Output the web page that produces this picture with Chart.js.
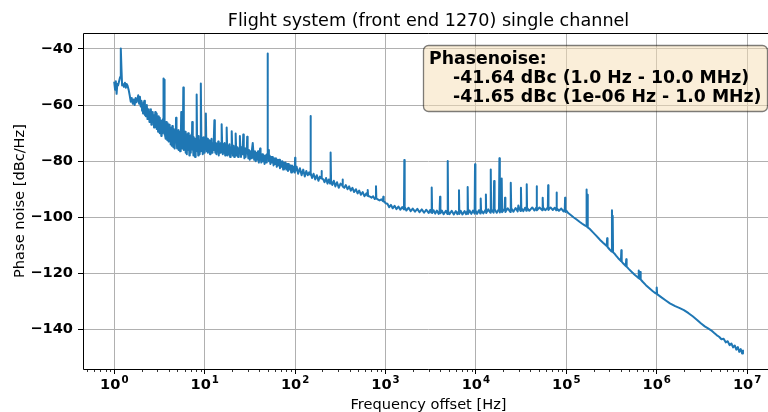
<!DOCTYPE html>
<html><head><meta charset="utf-8">
<style>html,body{margin:0;padding:0;overflow:hidden;background:#fff}canvas{display:block}</style>
<script src="https://cdn.jsdelivr.net/npm/chart.js@4.4.1/dist/chart.umd.min.js"></script>
</head><body>
<canvas id="c" width="776" height="412" style="width:776px;height:412px"></canvas>
<script>
const titleText = 'Flight system (front end 1270) single channel';
const xAxisTitle = 'Frequency offset [Hz]';
const yAxisTitle = 'Phase noise [dBc/Hz]';
const annotationHead = 'Phasenoise:';
const annotationLines = ['-41.64 dBc (1.0 Hz - 10.0 MHz)', '-41.65 dBc (1e-06 Hz - 1.0 MHz)'];
const xTickExponents = [0, 1, 2, 3, 4, 5, 6, 7];
const yTickValues = [-140, -120, -100, -80, -60, -40];

// 1 Hz - 2 Hz
const freqA1 = [1.00,1.02,1.04,1.06,1.08,1.10,1.13,1.16,1.18,1.20,
  1.22,1.25,1.28,1.31,1.34,1.37,1.40,1.44,1.48,1.52,
  1.56,1.60,1.64,1.68,1.72,1.76,1.80,1.84,1.88,1.92,
  1.96];
const dbcA1 = [-52.0,-54.5,-51.5,-56.0,-52.5,-53.0,-51.5,-50.0,-39.8,-47.0,
  -53.0,-52.5,-53.5,-52.0,-53.8,-52.5,-53.0,-54.5,-56.5,-58.8,
  -57.5,-59.5,-58.0,-60.0,-57.5,-59.0,-58.0,-56.5,-59.5,-57.0,
  -60.5];

// 2 Hz - 4 Hz
const freqA2 = [2.00,2.03,2.05,2.08,2.10,2.13,2.15,2.18,2.20,2.23,
  2.25,2.28,2.30,2.33,2.36,2.39,2.42,2.45,2.48,2.51,
  2.54,2.57,2.60,2.63,2.66,2.69,2.72,2.75,2.78,2.81,
  2.84,2.87,2.90,2.93,2.96,2.99,3.02,3.05,3.08,3.11,
  3.14,3.17,3.20,3.24,3.27,3.31,3.34,3.38,3.41,3.44,
  3.46,3.48,3.50,3.53,3.55,3.58,3.60,3.62,3.65,3.68,
  3.72,3.75,3.79,3.82,3.86,3.90,3.94,3.98];
const dbcA2 = [-58.5,-62.0,-60.0,-63.0,-59.0,-61.5,-58.5,-63.5,-60.5,-64.0,
  -61.0,-63.0,-60.0,-65.0,-62.0,-64.5,-61.5,-66.0,-62.5,-65.0,
  -61.5,-67.0,-63.0,-66.0,-62.5,-65.5,-63.5,-68.0,-64.0,-67.0,
  -62.5,-66.5,-64.0,-68.5,-63.0,-67.0,-65.0,-69.5,-64.0,-68.0,
  -65.5,-70.0,-64.5,-69.0,-66.0,-71.0,-65.5,-69.5,-66.5,-70.0,
  -65.0,-50.5,-64.0,-69.5,-66.5,-70.5,-51.0,-65.5,-71.0,-67.0,
  -72.0,-66.0,-70.5,-67.5,-72.5,-66.5,-71.5,-68.0];

// 4 Hz - 10 Hz
const freqA3 = [4.02,4.06,4.10,4.14,4.18,4.22,4.26,4.30,4.34,4.38,
  4.42,4.46,4.50,4.55,4.60,4.64,4.68,4.73,4.78,4.82,
  4.86,4.90,4.95,5.00,5.05,5.10,5.15,5.20,5.25,5.30,
  5.35,5.40,5.45,5.50,5.55,5.60,5.65,5.70,5.75,5.80,
  5.85,5.90,5.95,6.01,6.07,6.13,6.19,6.25,6.31,6.37,
  6.43,6.50,6.56,6.63,6.70,6.77,6.84,6.91,6.98,7.05,
  7.12,7.20,7.27,7.34,7.42,7.50,7.58,7.66,7.74,7.82,
  7.90,7.98,8.06,8.15,8.23,8.31,8.40,8.48,8.57,8.66,
  8.75,8.84,8.93,9.02,9.10,9.18,9.27,9.37,9.46,9.56,
  9.66,9.75,9.85,9.95];
const dbcA3 = [-73.0,-67.0,-71.0,-68.5,-74.0,-68.0,-72.5,-69.5,-74.5,-67.5,
  -72.0,-70.0,-75.0,-68.5,-73.5,-70.5,-75.5,-69.0,-73.0,-64.5,
  -72.5,-69.5,-75.5,-70.5,-74.5,-69.0,-76.0,-71.0,-74.0,-69.5,
  -76.5,-71.5,-75.0,-62.5,-73.5,-68.5,-75.5,-70.5,-74.0,-53.7,
  -70.0,-76.0,-71.0,-75.0,-69.5,-77.0,-71.5,-75.5,-70.5,-77.5,
  -72.0,-76.0,-70.0,-75.5,-72.5,-78.0,-71.0,-76.5,-72.5,-77.0,
  -70.5,-75.5,-66.0,-76.0,-72.0,-78.0,-71.5,-76.5,-73.0,-78.5,
  -72.0,-76.0,-72.5,-56.2,-71.5,-76.5,-73.0,-78.0,-71.0,-76.0,
  -72.5,-77.5,-73.0,-76.5,-52.3,-71.5,-76.0,-72.0,-77.5,-73.0,
  -76.5,-71.5,-77.0,-73.5];

// 10 Hz - 30 Hz
const freqB1 = [10.05,10.15,10.3,10.4,10.55,10.7,10.85,11.0,11.15,11.3,
  11.45,11.6,11.75,11.9,12.05,12.2,12.4,12.6,12.8,12.95,
  13.1,13.3,13.5,13.7,13.9,14.1,14.3,14.55,14.8,15.05,
  15.2,15.4,15.6,15.85,16.1,16.35,16.6,16.85,17.1,17.3,
  17.5,17.7,17.95,18.2,18.5,18.8,19.1,19.4,19.65,19.9,
  20.15,20.5,20.85,21.2,21.55,21.8,22.0,22.25,22.6,23.0,
  23.4,23.8,24.2,24.5,24.8,25.2,25.6,26.0,26.35,26.7,
  27.05,27.5,27.95,28.4,28.85,29.2,29.5,29.85];
const dbcB1 = [-75.5,-71.5,-63.0,-72.0,-76.5,-72.0,-77.0,-73.0,-76.0,-72.5,
  -77.5,-73.5,-76.5,-72.0,-77.0,-73.5,-76.0,-72.5,-65.4,-73.0,
  -77.0,-73.5,-77.5,-74.0,-76.5,-73.0,-78.0,-74.0,-77.0,-73.5,
  -75.0,-66.8,-74.0,-77.5,-74.0,-77.0,-73.5,-78.0,-74.5,-75.5,
  -68.0,-74.5,-78.0,-74.5,-77.5,-74.0,-78.5,-75.0,-76.5,-69.3,
  -75.0,-78.0,-74.5,-78.5,-75.0,-76.5,-70.1,-75.0,-78.0,-75.0,
  -78.5,-75.5,-77.0,-71.0,-75.5,-78.5,-75.0,-77.5,-76.0,-70.5,
  -75.5,-79.0,-75.5,-78.5,-76.0,-77.0,-71.3,-76.0];

// 30 Hz - 100 Hz
const freqB2 = [30.4,30.9,31.5,32.1,32.7,33.3,34.0,34.6,35.3,36.0,
  36.7,37.4,38.1,38.9,39.7,40.5,41.0,41.5,42.3,43.2,
  44.1,45.0,45.9,46.8,47.8,48.6,49.2,49.6,50.0,50.6,
  51.3,52.3,53.3,54.4,55.5,56.6,57.8,59.0,60.2,61.4,
  62.7,64.0,65.3,66.6,68.0,69.4,70.8,72.3,73.8,75.3,
  76.8,78.4,80.0,81.7,83.4,85.1,86.9,88.7,90.5,92.4,
  94.3,96.3,98.2,99.3,100,100.8];
const dbcB2 = [-79.0,-76.0,-79.5,-76.5,-79.0,-76.0,-73.5,-77.0,-79.5,-76.5,
  -80.0,-77.0,-79.5,-76.5,-80.5,-77.5,-75.5,-78.5,-80.5,-77.5,
  -80.0,-78.0,-81.0,-78.0,-80.5,-77.5,-79.0,-41.6,-78.0,-76.0,
  -80.0,-78.0,-81.0,-78.5,-80.5,-78.5,-81.5,-79.0,-81.0,-79.0,
  -82.0,-79.5,-81.5,-79.5,-82.5,-80.0,-82.0,-80.0,-83.0,-80.5,
  -82.5,-80.5,-83.0,-81.0,-83.5,-81.0,-83.0,-81.5,-84.0,-81.5,
  -83.5,-82.0,-84.0,-82.5,-78.8,-83.5];

// 100 Hz - 1 kHz
const freqC = [104,108,113,118,123,128,133,138,143,146.5,
  148,149.5,154,160,167,174,181,188,194,196,
  198,205,212,220,228,236,244,247,250,258,
  268,279,291,304,318,332,335,338,350,364,
  380,396,413,431,450,470,491,512,535,560,
  585,615,630,636,642,670,700,730,760,778,
  785,792,820,860,900,935,945,955,980,1000];
const dbcC = [-82.0,-84.5,-82.5,-85.0,-83.0,-85.5,-83.5,-85.0,-84.0,-84.8,
  -63.9,-84.2,-86.0,-84.5,-86.5,-85.0,-87.0,-85.5,-86.2,-83.5,
  -86.0,-86.5,-87.5,-86.0,-88.0,-86.5,-88.0,-76.9,-87.0,-88.5,
  -87.0,-89.0,-87.5,-89.5,-88.0,-88.6,-86.5,-89.0,-89.5,-88.5,
  -90.0,-89.0,-90.5,-89.5,-91.0,-90.0,-91.5,-90.5,-92.0,-91.0,
  -92.5,-91.5,-92.3,-90.3,-92.4,-92.6,-93.0,-92.5,-93.5,-93.2,
  -88.9,-93.3,-93.6,-94.0,-93.6,-94.2,-92.7,-94.4,-94.5,-95.0];

// 1 kHz - 100 kHz
const freqD = [1050,1100,1150,1200,1260,1320,1390,1460,1530,1600,
  1615,1630,1700,1800,1900,2000,2120,2250,2380,2520,
  2670,2830,3000,3120,3210,3245,3280,3400,3550,3700,
  3870,3970,4010,4050,4200,4400,4650,4830,4880,4930,
  5100,5400,5700,6000,6250,6440,6500,6560,6800,7100,
  7500,7800,8030,8110,8190,8500,8900,9300,9680,9780,
  9880,10300,10800,11200,11300,11400,12100,12800,12900,13000,
  13700,14450,14600,14750,15700,15900,16100,17000,18000,18200,
  18400,19100,19300,19500,20800,21000,21200,22500,24000,24300,
  24600,26000,27500,29000,29500,30000,31200,31500,31800,33500,
  35000,36200,36500,36800,39000,42000,44500,46600,47000,47400,
  50500,54300,54800,55300,58500,62500,63000,63500,67000,71000,
  74500,77300,78000,78700,83000,88000,93000,96200,97000,97800,
  100000];
const dbcD = [-95.2,-96.4,-95.6,-96.8,-95.9,-97.1,-96.2,-97.3,-96.4,-97.2,
  -79.6,-96.3,-97.6,-96.6,-97.8,-96.9,-98.0,-97.0,-98.2,-97.2,
  -98.4,-97.3,-98.5,-97.4,-98.3,-89.4,-98.5,-97.5,-98.7,-97.6,
  -98.8,-97.8,-92.7,-98.6,-97.6,-98.9,-97.7,-98.8,-79.9,-97.8,
  -98.9,-97.7,-99.0,-97.8,-98.9,-97.9,-90.4,-98.8,-97.7,-99.0,
  -97.8,-98.9,-97.8,-89.2,-98.8,-97.6,-98.8,-97.6,-98.7,-81.1,
  -97.5,-98.8,-97.5,-98.7,-93.3,-97.4,-98.6,-97.3,-91.9,-98.5,
  -97.2,-98.4,-83.0,-97.2,-98.4,-87.1,-97.1,-98.4,-97.1,-79.0,
  -98.3,-97.0,-86.2,-98.2,-96.9,-93.0,-98.1,-96.8,-98.1,-87.7,
  -96.8,-98.0,-96.7,-97.9,-95.8,-96.7,-97.8,-89.5,-96.7,-97.8,
  -96.6,-97.7,-88.2,-96.6,-97.7,-96.5,-97.6,-96.5,-88.9,-97.5,
  -96.5,-97.5,-93.0,-96.5,-97.5,-96.5,-88.6,-97.4,-96.5,-97.4,
  -96.6,-97.5,-91.2,-96.7,-97.7,-96.9,-97.9,-97.2,-93.0,-98.1,
  -97.6];

// 100 kHz - 9 MHz
const freqE = [105000,112000,120000,130000,140000,150000,160000,166000,167000,168500,
  170500,172000,173500,182000,195000,210000,225000,240000,255000,270000,
  280000,283000,286000,300000,312000,317000,320000,323000,326000,329000,
  340000,355000,375000,395000,402000,406000,410000,430000,455000,460000,
  465000,490000,530000,575000,620000,626000,630000,636000,652000,658000,
  665000,700000,760000,830000,900000,960000,990000,1000000,1010000,1100000,
  1250000,1400000,1600000,1800000,2000000,2250000,2500000,2800000,3100000,3400000,
  3700000,4000000,4300000,4600000,4900000,5200000,5500000,5800000,6100000,6400000,
  6700000,7000000,7300000,7600000,7900000,8200000,8500000,8800000,9000000];
const dbcE = [-98.5,-99.2,-100.0,-100.8,-101.6,-102.3,-102.9,-103.2,-90.1,-103.3,
  -103.4,-92.0,-103.6,-104.2,-105.2,-106.3,-107.3,-108.3,-109.1,-109.8,
  -110.3,-107.5,-110.6,-111.4,-112.0,-112.2,-97.5,-112.3,-99.5,-112.5,
  -112.9,-113.7,-114.6,-115.3,-115.6,-111.8,-115.8,-116.6,-117.4,-115.0,
  -117.6,-118.4,-119.5,-120.6,-121.5,-121.6,-119.0,-121.7,-122.0,-119.5,
  -122.2,-123.0,-124.2,-125.3,-126.3,-127.0,-127.2,-125.0,-127.4,-128.3,
  -129.6,-130.7,-131.7,-132.4,-133.1,-134.2,-135.3,-136.6,-137.9,-138.9,
  -139.6,-140.3,-141.2,-142.0,-142.6,-143.5,-143.3,-144.6,-144.2,-145.6,
  -145.0,-146.4,-145.7,-147.2,-146.3,-148.0,-147.0,-148.6,-147.6];

const freqSegments = [freqA1, freqA2, freqA3, freqB1, freqB2, freqC, freqD, freqE];
const dbcSegments = [dbcA1, dbcA2, dbcA3, dbcB1, dbcB2, dbcC, dbcD, dbcE];
freqSegments.forEach((f, i) => { if (f.length !== dbcSegments[i].length) throw new Error('segment ' + i + ' length mismatch ' + f.length + ' vs ' + dbcSegments[i].length); });
const freqHz = [].concat(...freqSegments);
const phaseNoiseDbc = [].concat(...dbcSegments);
const points = freqHz.map((f, i) => ({ x: f, y: phaseNoiseDbc[i] }));

const FONT = '"DejaVu Sans", sans-serif';
const TICK_PX = 14.6, EXP_PX = 10.2, TITLE_PX = 17.6, LABEL_PX = 14.6, NOTE_PX = 17.3;

const decor = {
  id: 'decor',
  afterDatasetsDraw(chart) {
    const ctx = chart.ctx, a = chart.chartArea, xs = chart.scales.x;
    ctx.save();
    // minor ticks
    ctx.strokeStyle = '#000';
    ctx.lineWidth = 0.8;
    for (let e = -1; e <= 7; e++) {
      for (let k = 2; k <= 9; k++) {
        const v = k * Math.pow(10, e);
        if (v < xs.min || v > xs.max) continue;
        const px = Math.round(xs.getPixelForValue(v)) + 0.5;
        ctx.beginPath(); ctx.moveTo(px, a.bottom); ctx.lineTo(px, a.bottom + 3); ctx.stroke();
      }
    }
    // spines
    ctx.lineWidth = 1;
    ctx.strokeStyle = '#000';
    ctx.beginPath();
    ctx.moveTo(a.right, Math.round(a.top) + 0.5);
    ctx.lineTo(Math.round(a.left) + 0.5, Math.round(a.top) + 0.5);
    ctx.lineTo(Math.round(a.left) + 0.5, Math.round(a.bottom) + 0.5);
    ctx.lineTo(a.right, Math.round(a.bottom) + 0.5);
    ctx.stroke();
    // annotation box
    ctx.beginPath();
    ctx.roundRect(423.5, 45.5, 344, 66, 5);
    ctx.fillStyle = 'rgba(245,222,179,0.5)';
    ctx.fill();
    ctx.strokeStyle = 'rgba(0,0,0,0.5)';
    ctx.lineWidth = 1.3;
    ctx.stroke();
    ctx.fillStyle = '#000';
    ctx.font = 'bold ' + NOTE_PX + 'px ' + FONT;
    ctx.textAlign = 'left';
    ctx.textBaseline = 'alphabetic';
    ctx.fillText(annotationHead, 429, 63.5);
    ctx.fillText(annotationLines[0], 453, 82.8);
    ctx.fillText(annotationLines[1], 453, 102);
    // title
    const cx = (a.left + a.right) / 2;
    ctx.font = TITLE_PX + 'px ' + FONT;
    ctx.textAlign = 'center';
    ctx.fillText(titleText, cx, 26);
    // x axis title
    ctx.font = LABEL_PX + 'px ' + FONT;
    ctx.fillText(xAxisTitle, cx, 409);
    // y axis title
    ctx.save();
    ctx.translate(23.5, (a.top + a.bottom) / 2);
    ctx.rotate(-Math.PI / 2);
    ctx.fillText(yAxisTitle, 0, 0);
    ctx.restore();
    // x tick labels 10^n
    xTickExponents.forEach(e => {
      const px = xs.getPixelForValue(Math.pow(10, e));
      ctx.font = 'bold ' + TICK_PX + 'px ' + FONT;
      const wb = ctx.measureText('10').width;
      ctx.font = 'bold ' + EXP_PX + 'px ' + FONT;
      const we = ctx.measureText(String(e)).width;
      const x0 = px - (wb + we + 1) / 2;
      ctx.textAlign = 'left';
      ctx.font = 'bold ' + TICK_PX + 'px ' + FONT;
      ctx.fillText('10', x0, 389);
      ctx.font = 'bold ' + EXP_PX + 'px ' + FONT;
      ctx.fillText(String(e), x0 + wb + 1, 382.5);
    });
    ctx.restore();
  }
};

new Chart(document.getElementById('c'), {
  type: 'line',
  data: {
    datasets: [{
      data: points,
      borderColor: '#1f77b4',
      borderWidth: 2,
      pointRadius: 0,
      fill: false,
      tension: 0,
      borderJoinStyle: 'round',
      borderCapStyle: 'square'
    }]
  },
  options: {
    responsive: false,
    animation: false,
    devicePixelRatio: 1,
    layout: { padding: { top: 33, left: 0, right: 2, bottom: 0 } },
    plugins: { legend: { display: false }, tooltip: { enabled: false }, title: { display: false } },
    scales: {
      x: {
        type: 'logarithmic',
        min: 0.4506,
        max: 1.984e7,
        afterBuildTicks: s => { s.ticks = xTickExponents.map(e => ({ value: Math.pow(10, e) })); },
        afterFit: s => { s.height = 43; },
        ticks: { display: false },
        border: { display: false },
        grid: { color: '#b0b0b0', lineWidth: 1, tickColor: '#000', tickLength: 5, tickWidth: 1, drawTicks: true }
      },
      y: {
        type: 'linear',
        min: -154.1,
        max: -34.3,
        afterBuildTicks: s => { s.ticks = yTickValues.map(v => ({ value: v })); },
        afterFit: s => { s.width = 83; },
        ticks: {
          padding: 5,
          color: '#000',
          font: { family: 'DejaVu Sans', size: TICK_PX, weight: 'bold' },
          callback: v => String(v).replace('-', '\u2212')
        },
        border: { display: false },
        grid: { color: '#b0b0b0', lineWidth: 1, tickColor: '#000', tickLength: 5, tickWidth: 1, drawTicks: true }
      }
    }
  },
  plugins: [decor]
});
</script>
</body></html>
